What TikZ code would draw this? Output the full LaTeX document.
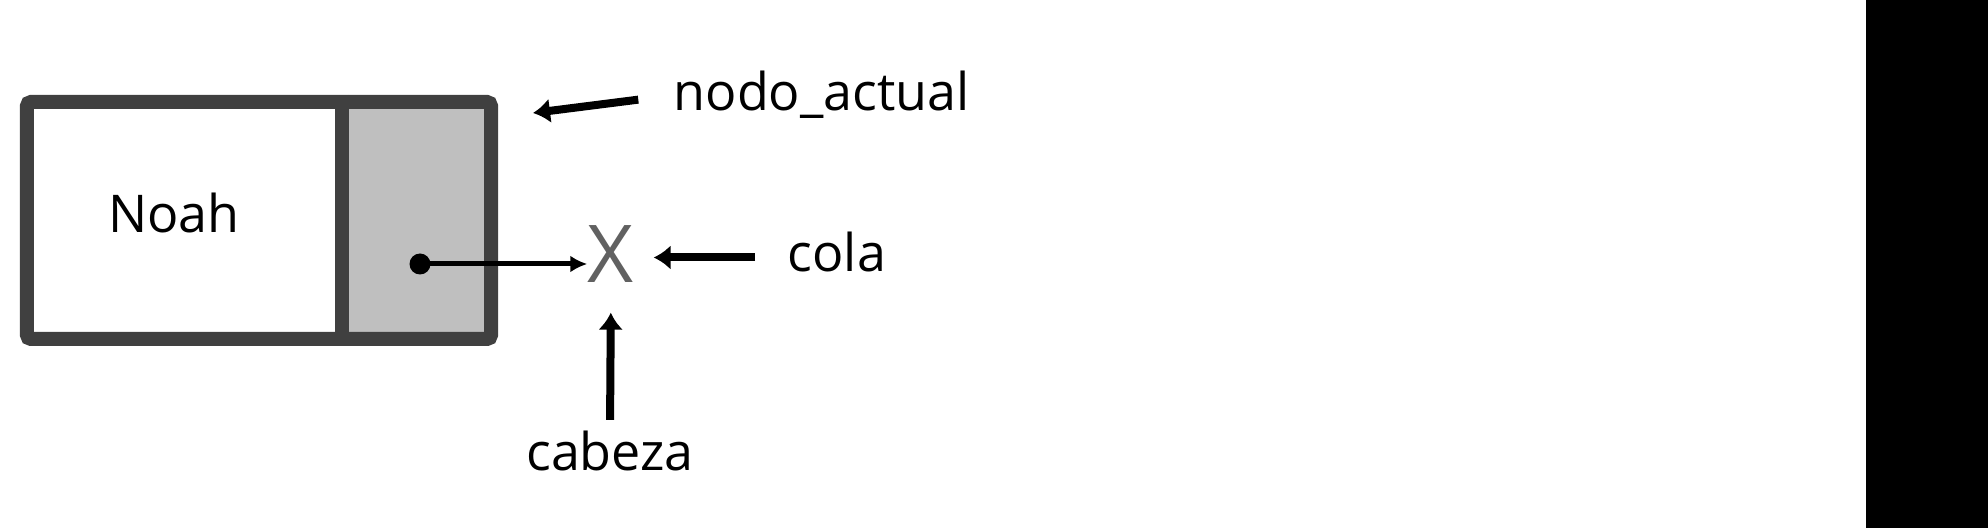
\documentclass[tikz,border=0pt]{standalone}
\usepackage{fontspec}
\setmainfont{Open Sans}
\usetikzlibrary{arrows.meta}

\begin{document}
\begin{tikzpicture}[
	etiqueta/.style={inner sep=0, font=\fontsize{14.8}{18}\selectfont},
	borde/.style={draw=black!75, line width=0.14cm},
	flecha/.style={-{Latex[length=0.17cm,width=0.25cm]}, line width=0.08cm}]
		\useasboundingbox (0,0) rectangle (19.88,5.28);
		\fill[black](18.66,0) rectangle (19.88,5.28);
		\fill[black!25](3.42,1.89) rectangle (4.91,4.26);
		\node[borde, rounded corners=0.04cm, inner sep=0, minimum width=4.64cm, minimum height=2.37cm] (nodo) at (2.59,3.075) {};
		\coordinate (div) at (3.42,0);
		\draw[borde](div |- nodo.north)--(div |- nodo.south);
		\node[etiqueta, anchor=base] (noah) at (1.74,2.95) {Noah};
		\node[circle, fill, inner sep=0, minimum size=0.21cm] (punto) at (4.20,2.64) {};
		\node[inner sep=0, text=black!62, font=\fontsize{22.7}{26}\selectfont] (x) at (6.11,2.735) {X};
		\draw[-{Latex[length=0.17cm,width=0.17cm]}, line width=0.05cm](punto.center)--(punto -| x.west);
		\node[etiqueta, anchor=base west] (actual) at (6.73,4.17) {nodo\_actual};
		\node[etiqueta, anchor=west, text height=0.28cm, text depth=0cm] (cola) at (7.87,2.705) {cola};
		\node[etiqueta, anchor=base] (cabeza) at (6.10,0.57) {cabeza};
		\coordinate (punta) at (5.33,4.15);
		\draw[flecha, shorten <=0.35cm](actual.west)--(punta);
		\draw[flecha, shorten <=0.32cm, shorten >=0.19cm](cola.west)--(cola.west -| x.east);
		\draw[flecha, shorten <=0.11cm, shorten >=0.29cm](cabeza.north)--(x.south);
		\end{tikzpicture}
\end{document}
